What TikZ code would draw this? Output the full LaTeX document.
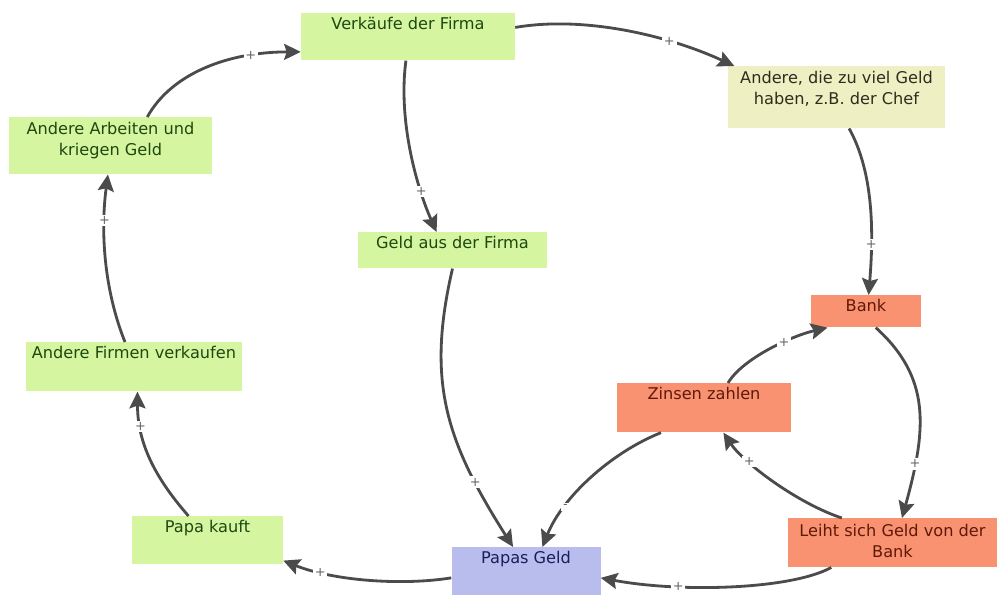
\documentclass[tikz,border=0pt]{standalone}
\usepackage{fontspec}
\setmainfont{DejaVu Sans}
\usetikzlibrary{arrows.meta}

\definecolor{boxgreen}{RGB}{213,245,160}
\definecolor{textgreen}{RGB}{30,72,15}
\definecolor{boxyellow}{RGB}{239,239,196}
\definecolor{textyellow}{RGB}{45,45,30}
\definecolor{boxorange}{RGB}{249,146,112}
\definecolor{textorange}{RGB}{95,25,10}
\definecolor{boxblue}{RGB}{185,189,238}
\definecolor{textblue}{RGB}{25,30,90}
\definecolor{linkgray}{RGB}{75,75,75}

\tikzset{
  box/.style={anchor=north, inner xsep=0pt, inner ysep=0pt, text height=0.5cm,
    align=center, font=\fontsize{13.8}{17.9}\selectfont},
  greenbox/.style={box, fill=boxgreen, text=textgreen},
  yellowbox/.style={box, fill=boxyellow, text=textyellow},
  orangebox/.style={box, fill=boxorange, text=textorange},
  bluebox/.style={box, fill=boxblue, text=textblue},
  link/.style={->, line width=2.4pt, draw=linkgray},
  sign/.style={pos=#1, fill=white, inner sep=1.5pt, text=linkgray!85,
    font=\fontsize{11}{12}\selectfont},
}

\begin{document}
\begin{tikzpicture}[x=0.03cm, y=-0.03cm, >={Stealth[length=0.5cm, width=0.48cm, inset=0.08cm]}]
    \useasboundingbox (0,0) rectangle (998,597);

    \node[greenbox, minimum width=6.42cm, text depth=0.915cm] (verk) at (408,13) {Verkäufe der Firma};
    \node[greenbox, minimum width=6.09cm, text height=1.14cm, text depth=0.57cm] (arbeit) at (110.5,117) {Andere Arbeiten und\\kriegen Geld};
    \node[yellowbox, minimum width=6.51cm, text height=1.155cm, text depth=0.705cm] (chef) at (836.5,66) {Andere, die zu viel Geld\\haben, z.B. der Chef};
    \node[greenbox, minimum width=5.67cm, text depth=0.585cm] (firma) at (452.5,232) {Geld aus der Firma};
    \node[orangebox, minimum width=3.3cm, text depth=0.465cm] (bank) at (866,295) {Bank};
    \node[greenbox, minimum width=6.48cm, text depth=0.975cm] (firmen) at (134,342) {Andere Firmen verkaufen};
    \node[orangebox, minimum width=5.22cm, text depth=0.975cm] (zinsen) at (704,383) {Zinsen zahlen};
    \node[greenbox, minimum width=4.53cm, text depth=0.945cm] (kauft) at (207.5,516) {Papa kauft};
    \node[bluebox, minimum width=4.47cm, text depth=0.945cm] (geld) at (526,547) {Papas Geld};
    \node[orangebox, minimum width=6.27cm, text height=1.185cm, text depth=0.285cm] (leiht) at (892.5,518) {Leiht sich Geld von der\\Bank};

    \draw[link] (arbeit.38) .. controls +(25,-45) and +(-70,0) .. (verk.188) node[sign=0.75] {+};
    \draw[link] (verk.5) .. controls +(70,-12) and +(-65,-30) .. (chef.163) node[sign=0.69] {+};
    \draw[link] (verk.-95) .. controls +(-8,60) and +(-20,-45) .. (firma.131) node[sign=0.73] {+};
    \draw[link] (chef.-68) .. controls +(25,45) and +(5,-60) .. (bank.81) node[sign=0.72] {+};
    \draw[link] (firma.south) .. controls +(-26,112) and +(-68,-107) .. (geld.118) node[sign=0.78] {+};
    \draw[link] (zinsen.-150) .. controls +(-50,20) and +(20,-50) .. (geld.56) node[sign=0.72] {-};
    \draw[link] (geld.-175) .. controls +(-50,8) and +(50,20) .. (kauft.-15) node[sign=0.77] {+};
    \draw[link] (kauft.128) .. controls +(-35,-40) and +(0,50) .. (firmen.-82) node[sign=0.75] {+};
    \draw[link] (firmen.110) .. controls +(-20,-50) and +(-8,60) .. (arbeit.-95) node[sign=0.74] {+};
    \draw[link] (bank.-59) .. controls +(55,50) and +(25,-90) .. (leiht.69) node[sign=0.78] {+};
    \draw[link] (leiht.154) .. controls +(-45,-15) and +(20,30) .. (zinsen.-52) node[sign=0.7] {+};
    \draw[link] (zinsen.46) .. controls +(15,-25) and +(-35,8) .. (bank.-157) node[sign=0.62] {+};
    \draw[link] (leiht.-158) .. controls +(-40,22) and +(80,15) .. (geld.-5) node[sign=0.7] {+};
\end{tikzpicture}
\end{document}
